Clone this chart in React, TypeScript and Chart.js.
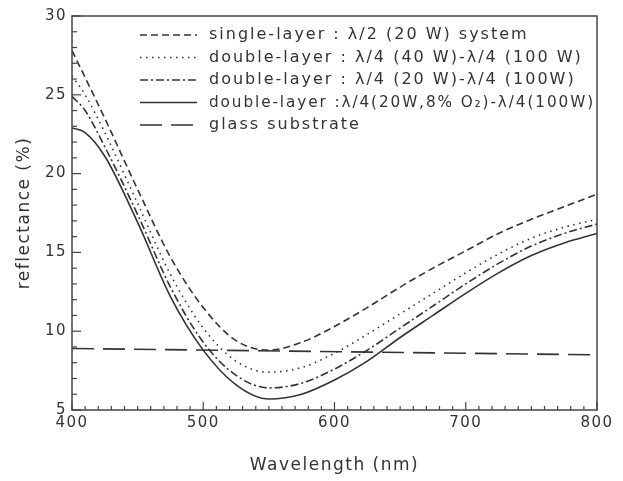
import React, { useEffect, useRef } from 'react';
import { Chart, registerables } from 'chart.js';
Chart.register(...registerables);

// ---- data ----
const wavelengths = [400, 410, 425, 450, 475, 500, 525, 550, 575, 600, 625, 650, 675, 700, 725, 750, 775, 800];
const singleLayer = [27.8, 26.1, 23.5, 19.0, 14.7, 11.5, 9.4, 8.8, 9.3, 10.3, 11.5, 12.8, 14.0, 15.1, 16.2, 17.1, 17.9, 18.7];
const double40 = [26.2, 25.0, 22.6, 18.1, 13.6, 10.2, 8.1, 7.4, 7.7, 8.6, 9.8, 11.1, 12.4, 13.7, 14.9, 15.9, 16.6, 17.1];
const double20 = [24.9, 24.0, 21.7, 17.4, 12.8, 9.3, 7.2, 6.4, 6.7, 7.6, 8.8, 10.2, 11.6, 13.0, 14.3, 15.4, 16.2, 16.8];
const double20O2 = [22.9, 22.6, 21.1, 16.9, 12.2, 8.8, 6.6, 5.7, 6.0, 6.9, 8.1, 9.6, 11.0, 12.4, 13.7, 14.8, 15.6, 16.2];
const glassWavelengths = [400, 800];
const glassValues = [8.9, 8.5];

const seriesLabels = [
  'single-layer : λ/2 (20 W) system',
  'double-layer : λ/4 (40 W)-λ/4 (100 W)',
  'double-layer : λ/4 (20 W)-λ/4 (100W)',
  'double-layer :λ/4(20W,8% O₂)-λ/4(100W)',
  'glass substrate',
];
const xTickValues = [400, 500, 600, 700, 800];
const yTickValues = [5, 10, 15, 20, 25, 30];

const INK = '#333333';
const FONT = "'DejaVu Sans'";

const toPoints = (xs: number[], ys: number[]) => xs.map((x, i) => ({ x, y: ys[i] }));

const decorPlugin = {
  id: 'decor',
  beforeDraw(chart: any) {
    (chart.ctx as any).letterSpacing = '1.5px';
  },
  afterDatasetsDraw(chart: any) {
    const { ctx, chartArea: a, scales } = chart;
    const xs = scales.x;
    const ys = scales.y;
    ctx.save();
    ctx.strokeStyle = '#444';
    ctx.lineWidth = 1.5;
    ctx.setLineDash([]);
    ctx.strokeRect(a.left, a.top, a.right - a.left, a.bottom - a.top);
    ctx.lineWidth = 1.2;
    for (let v = 400; v <= 800; v += 10) {
      const px = xs.getPixelForValue(v);
      const len = v % 100 === 0 ? 8 : 4;
      ctx.beginPath();
      ctx.moveTo(px, a.bottom);
      ctx.lineTo(px, a.bottom - len);
      ctx.stroke();
    }
    for (let v = 5; v <= 30; v += 1) {
      const py = ys.getPixelForValue(v);
      const len = v % 5 === 0 ? 9 : 5;
      ctx.beginPath();
      ctx.moveTo(a.left, py);
      ctx.lineTo(a.left + len, py);
      ctx.stroke();
    }
    const datasets = chart.data.datasets;
    const x0 = a.left + 68;
    const x1 = a.left + 125;
    const tx = a.left + 137;
    ctx.font = `16px ${FONT}`;
    (ctx as any).letterSpacing = '2px';
    ctx.textBaseline = 'middle';
    ctx.textAlign = 'left';
    datasets.forEach((ds: any, i: number) => {
      const y = a.top + 19 + i * 22.5;
      ctx.strokeStyle = INK;
      ctx.lineWidth = 1.6;
      ctx.setLineDash(ds.borderDash || []);
      ctx.beginPath();
      ctx.moveTo(x0, y);
      ctx.lineTo(x1, y);
      ctx.stroke();
      ctx.fillStyle = INK;
      ctx.fillText(ds.label, tx, y, a.right - tx - 2);
    });
    ctx.restore();
  },
};

export default function App() {
  const ref = useRef<HTMLCanvasElement>(null);
  useEffect(() => {
    document.body.style.margin = '0';
    const common = {
      borderColor: INK,
      borderWidth: 1.6,
      pointRadius: 0,
      fill: false,
      cubicInterpolationMode: 'monotone' as const,
    };
    const chart = new Chart(ref.current!, {
      type: 'line',
      data: {
        datasets: [
          { ...common, label: seriesLabels[0], data: toPoints(wavelengths, singleLayer), borderDash: [7, 4] },
          { ...common, label: seriesLabels[1], data: toPoints(wavelengths, double40), borderDash: [1.5, 4.5] },
          { ...common, label: seriesLabels[2], data: toPoints(wavelengths, double20), borderDash: [8, 3, 2, 3] },
          { ...common, label: seriesLabels[3], data: toPoints(wavelengths, double20O2), borderDash: [] },
          { ...common, label: seriesLabels[4], data: toPoints(glassWavelengths, glassValues), borderDash: [22, 9] },
        ],
      },
      options: {
        animation: false,
        responsive: false,
        devicePixelRatio: 1,
        layout: { padding: { top: 16, right: 26, left: 0, bottom: 0 } },
        plugins: { legend: { display: false }, tooltip: { enabled: false } },
        scales: {
          x: {
            type: 'linear',
            min: 400,
            max: 800,
            afterBuildTicks: (s: any) => { s.ticks = xTickValues.map((v) => ({ value: v })); },
            afterFit: (s: any) => { s.height = 71; },
            grid: { display: false, drawTicks: false },
            border: { display: false },
            ticks: { color: INK, font: { family: FONT, size: 15 }, padding: 4, maxRotation: 0, autoSkip: false },
            title: { display: true, text: 'Wavelength (nm)', color: INK, font: { family: FONT, size: 17 }, padding: { bottom: 5 } },
          },
          y: {
            type: 'linear',
            min: 5,
            max: 30,
            afterBuildTicks: (s: any) => { s.ticks = yTickValues.map((v) => ({ value: v })); },
            afterFit: (s: any) => { s.width = 72; },
            grid: { display: false, drawTicks: false },
            border: { display: false },
            ticks: { color: INK, font: { family: FONT, size: 15 }, padding: 5, autoSkip: false },
            title: { display: true, text: 'reflectance (%)', color: INK, font: { family: FONT, size: 17 }, padding: { top: 14 } },
          },
        },
      },
      plugins: [decorPlugin],
    });
    return () => chart.destroy();
  }, []);
  return (
    <div style={{ width: 623, height: 481, background: '#fff' }}>
      <canvas ref={ref} width={623} height={481} style={{ display: 'block' }} />
    </div>
  );
}
